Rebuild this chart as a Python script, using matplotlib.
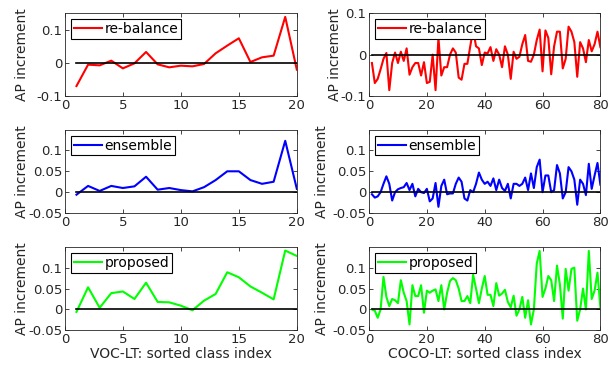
import matplotlib
matplotlib.use("Agg")
import matplotlib.pyplot as plt
import numpy as np

# VOC-LT (20 klas)
voc_rebalance = [-0.069, -0.005, -0.007, 0.007, -0.016, -0.001, 0.033, -0.004, -0.013, -0.008,
                 -0.010, -0.003, 0.029, 0.052, 0.074, 0.003, 0.017, 0.022, 0.138, -0.020]
voc_ensemble = [-0.006, 0.015, 0.003, 0.015, 0.010, 0.014, 0.037, 0.006, 0.010, 0.005,
                0.002, 0.012, 0.029, 0.050, 0.050, 0.029, 0.020, 0.025, 0.123, 0.008]
voc_proposed = [-0.006, 0.053, 0.004, 0.039, 0.043, 0.025, 0.064, 0.018, 0.017, 0.009,
                -0.002, 0.021, 0.037, 0.089, 0.077, 0.055, 0.040, 0.024, 0.141, 0.128]

# COCO-LT (80 klas)
coco_rebalance = [-0.020, -0.068, -0.058, -0.035, -0.010, 0.004, -0.085, -0.020, 0.005, -0.020,
                  0.007, -0.015, 0.015, -0.048, -0.030, -0.020, -0.020, -0.050, -0.018, -0.068,
                  -0.065, 0.000, -0.085, 0.040, -0.050, -0.030, -0.030, 0.000, 0.015, 0.005,
                  -0.055, -0.060, -0.022, -0.022, 0.020, 0.060, 0.020, 0.015, -0.025, 0.005,
                  0.003, 0.018, -0.015, 0.013, 0.000, -0.030, 0.020, 0.000, -0.058, 0.007,
                  -0.010, -0.005, 0.025, 0.047, -0.015, -0.017, 0.000, 0.035, 0.060, -0.040,
                  0.058, 0.040, -0.047, 0.020, 0.055, 0.055, -0.033, -0.010, 0.067, 0.055,
                  0.030, -0.053, 0.030, 0.015, -0.018, 0.035, 0.008, 0.025, 0.055, 0.018]
coco_ensemble = [-0.005, -0.013, -0.010, 0.000, 0.020, 0.038, 0.020, -0.020, 0.000, 0.007,
                 0.010, 0.012, 0.022, 0.005, 0.020, -0.010, 0.008, 0.000, -0.002, 0.008,
                 -0.022, -0.015, 0.022, -0.035, 0.015, 0.030, -0.005, -0.003, -0.003, 0.020,
                 0.035, 0.025, -0.015, -0.020, 0.005, 0.000, 0.020, 0.047, 0.030, 0.020,
                 0.025, 0.015, 0.033, 0.005, 0.030, 0.010, 0.003, 0.020, -0.015, 0.020,
                 0.020, 0.015, 0.020, 0.035, 0.005, 0.045, 0.010, 0.060, 0.078, 0.000,
                 0.040, 0.040, 0.000, 0.005, 0.065, 0.045, -0.015, 0.000, 0.060, 0.050,
                 0.030, -0.030, 0.030, 0.020, -0.007, 0.068, 0.008, 0.040, 0.070, 0.018]
coco_proposed = [0.000, -0.003, -0.020, 0.000, 0.078, 0.030, 0.008, 0.025, 0.022, 0.015,
                 0.070, 0.040, 0.020, -0.036, 0.058, 0.032, 0.032, 0.058, -0.008, 0.045,
                 0.040, 0.045, 0.048, 0.020, 0.058, 0.000, 0.040, 0.068, 0.075, 0.070,
                 0.050, 0.020, 0.020, 0.032, 0.015, 0.083, 0.050, 0.015, 0.050, 0.080,
                 0.035, 0.035, 0.008, 0.063, 0.033, 0.038, 0.047, 0.018, 0.005, 0.033,
                 -0.015, 0.000, 0.030, -0.020, 0.022, -0.036, 0.000, 0.110, 0.140, 0.030,
                 0.050, 0.080, 0.070, 0.020, 0.105, 0.060, -0.022, 0.097, 0.045, 0.097,
                 0.100, -0.027, 0.000, 0.050, 0.000, 0.140, 0.025, 0.045, 0.088, 0.005]

labels = ['re-balance', 'ensemble', 'proposed']
colors = ['#ff0000', '#0000ff', '#00ff00']

plt.rcParams['font.family'] = 'DejaVu Sans'
plt.rcParams['font.size'] = 9

fig = plt.figure(figsize=(6.12, 3.68), dpi=100)

col_x = [0.106, 0.603]
col_w = [0.379, 0.378]
row_y = [0.738, 0.421, 0.1024]
row_h = 0.227
# pozycje podpisów osi Y (w układzie osi)
ylab_x = [[-0.155, -0.155, -0.155], [-0.118, -0.173, -0.173]]

columns = [
    ([voc_rebalance, voc_ensemble, voc_proposed], 20, [0, 5, 10, 15, 20],
     'VOC-LT: sorted class index',
     [(-0.1, 0.15), (-0.05, 0.15), (-0.05, 0.15)]),
    ([coco_rebalance, coco_ensemble, coco_proposed], 80, [0, 20, 40, 60, 80],
     'COCO-LT: sorted class index',
     [(-0.1, 0.1), (-0.05, 0.15), (-0.05, 0.15)]),
]
yticks = [[-0.1, 0, 0.1], [-0.05, 0, 0.05, 0.1], [-0.05, 0, 0.05, 0.1]]
yticklabels = [['-0.1', '0', '0.1'], ['-0.05', '0', '0.05', '0.1'], ['-0.05', '0', '0.05', '0.1']]

axc = '#262626'
for c, (series, n, xt, xlab, ylims) in enumerate(columns):
    x = np.arange(1, n + 1)
    for r in range(3):
        ax = fig.add_axes([col_x[c], row_y[r], col_w[c], row_h])
        ax.plot(x, series[r], color=colors[r], lw=1.5, label=labels[r])
        ax.plot([1, n], [0, 0], color='k', lw=1.2)
        ax.set_xlim(0, n)
        ax.set_ylim(*ylims[r])
        ax.set_xticks(xt)
        ax.set_yticks(yticks[r])
        ax.set_yticklabels(yticklabels[r])
        ax.tick_params(direction='in', top=True, right=True, length=3,
                       width=0.6, colors=axc, labelsize=9.5, pad=2)
        for s in ax.spines.values():
            s.set_color(axc)
            s.set_linewidth(0.6)
        ax.set_ylabel('AP increment', fontsize=10, color=axc)
        ax.yaxis.set_label_coords(ylab_x[c][r], 0.5)
        if r == 2:
            ax.set_xlabel(xlab, fontsize=10, color=axc, labelpad=1)
        leg = ax.legend(loc='upper left', fontsize=10, handlelength=2.0,
                        handletextpad=0.2, borderpad=0.2, borderaxespad=0.45,
                        fancybox=False, framealpha=1)
        leg.get_frame().set_edgecolor('k')
        leg.get_frame().set_linewidth(0.8)

fig.savefig('out.png', dpi=100)
